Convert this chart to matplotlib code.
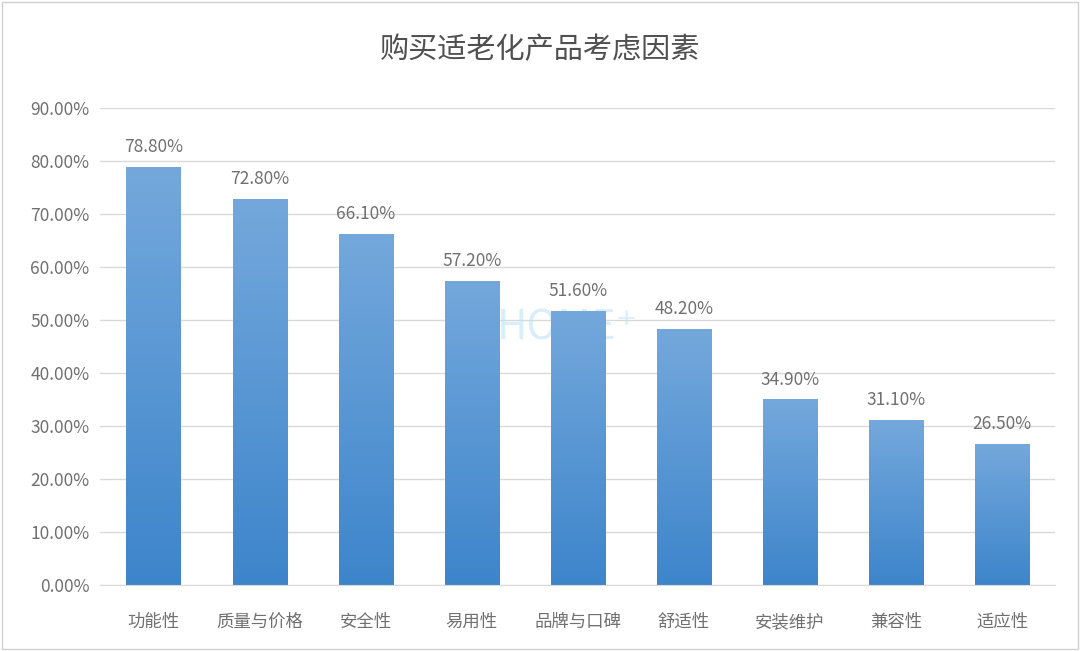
import matplotlib
matplotlib.use("Agg")
import matplotlib.pyplot as plt
import numpy as np
from matplotlib.colors import LinearSegmentedColormap
from matplotlib.patches import Rectangle

plt.rcParams['font.family'] = ['Noto Sans CJK SC', 'DejaVu Sans']

categories = ['功能性', '质量与价格', '安全性', '易用性', '品牌与口碑', '舒适性', '安装维护', '兼容性', '适应性']
values = [78.8, 72.8, 66.1, 57.2, 51.6, 48.2, 34.9, 31.1, 26.5]
yticks = [0, 10, 20, 30, 40, 50, 60, 70, 80, 90]

fig = plt.figure(figsize=(10.8, 6.51), dpi=100)
fig.patches.append(Rectangle((0.002, 0.003), 0.996, 0.994, transform=fig.transFigure,
                             fill=False, edgecolor='#d0d0d0', linewidth=1))
ax = fig.add_axes([0.093, 0.101, 0.884, 0.733])

cmap = LinearSegmentedColormap.from_list('g', ['#3d85cb', '#74a8dc'])
grad = np.linspace(0, 1, 256).reshape(-1, 1)
w = 0.51
for i, v in enumerate(values):
    ax.imshow(grad, cmap=cmap, origin='lower', aspect='auto',
              extent=(i - w / 2, i + w / 2, 0, v), zorder=2)
    ax.text(i, v + 2.2, f'{v:.2f}%', ha='center', va='bottom', fontsize=12.5,
            color='#707070', fontweight='light')
ax.set_xlim(-0.5, len(categories) - 0.5)
ax.set_ylim(0, 90)

ax.set_yticks(yticks)
ax.set_yticklabels([f'{t:.2f}%' for t in yticks], fontsize=12.5, color='#707070', fontweight='light')
ax.set_xticks(range(len(categories)))
ax.set_xticklabels(categories, fontsize=12.5, color='#707070', fontweight='light')
ax.yaxis.grid(True, color='#d9d9d9', linewidth=1, zorder=0)
ax.set_axisbelow(True)
for s in ['top', 'right', 'left']:
    ax.spines[s].set_visible(False)
ax.spines['bottom'].set_color('#d9d9d9')
ax.tick_params(axis='y', length=0, pad=8)
ax.tick_params(axis='x', length=0, pad=20)

ax.text(3.9, 48.5, 'HOME⁺', fontsize=30, color='#bfe3f7', alpha=0.6, ha='center', va='center', zorder=1)
fig.text(0.5, 0.923, '购买适老化产品考虑因素', ha='center', va='center', fontsize=21, color='#505050')

fig.savefig('out.png', dpi=100)
